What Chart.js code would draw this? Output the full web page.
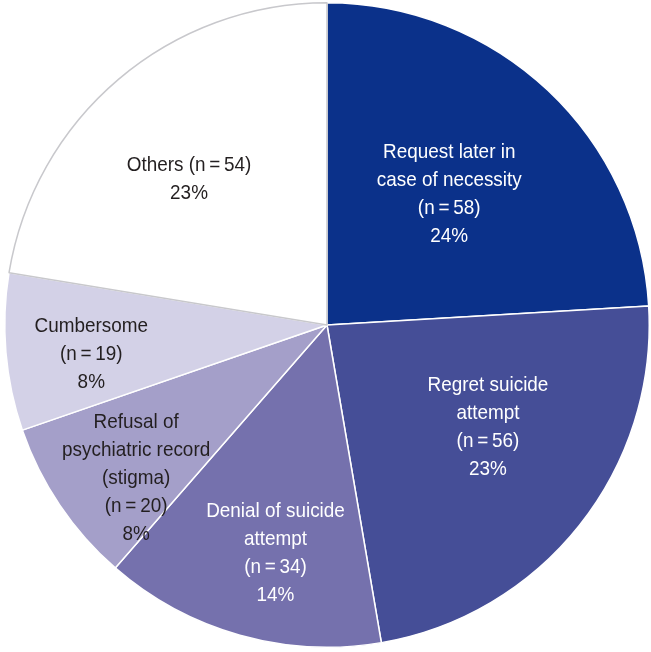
<!DOCTYPE html>
<html>
<head>
<meta charset="utf-8">
<script src="https://cdn.jsdelivr.net/npm/chart.js@4"></script>
<style>
  html, body { margin: 0; padding: 0; background: #fff; }
  #wrap { width: 651px; height: 652px; }
</style>
</head>
<body>
<div id="wrap"><canvas id="pieChart" width="651" height="652"></canvas></div>
<script>
// Data
const reasons = ['Request later in case of necessity', 'Regret suicide attempt', 'Denial of suicide attempt',
    'Refusal of psychiatric record (stigma)', 'Cumbersome', 'Others'];
const counts = [58, 56, 34, 20, 19, 54];
const percents = ['24%', '23%', '14%', '8%', '8%', '23%'];

// label text lines (name part), n and % are appended
const labelLines = [
    ['Request later in', 'case of necessity'],
    ['Regret suicide', 'attempt'],
    ['Denial of suicide', 'attempt'],
    ['Refusal of', 'psychiatric record', '(stigma)'],
    ['Cumbersome'],
    ['Others (n\u2009=\u200954)']
];

const sliceColors = ['#0b318a', '#454e97', '#7571ad', '#a49fc9', '#d3d1e7', '#ffffff'];
const sliceBorders = ['#ffffff', '#ffffff', '#ffffff', '#ffffff', '#ffffff', '#c8c8cc'];
const textColors = ['#ffffff', '#ffffff', '#ffffff', '#231f20', '#231f20', '#231f20'];

// label placement: angle from 12 o'clock (deg, clockwise), fraction of radius
const labelAngle = [43.1, 122.3, 192.7, 231.2, 263, 316.5];
const labelDist = [0.555, 0.591, 0.727, 0.76, 0.737, 0.622];

const FONT = '"Liberation Sans", Arial, sans-serif';
const SQUEEZE = 0.9; // condensed look

function buildLines(i) {
    const lines = labelLines[i].slice();
    if (i !== 5) lines.push('(n\u2009=\u2009' + counts[i] + ')');
    lines.push(percents[i]);
    return lines;
}

// Labels plugin
const sliceLabels = {
    id: 'sliceLabels',
    afterDatasetsDraw(chart) {
        const meta = chart.getDatasetMeta(0);
        const ctx = chart.ctx;
        meta.data.forEach((arc, i) => {
            const a = labelAngle[i] * Math.PI / 180;
            const r = arc.outerRadius * labelDist[i];
            const cx = arc.x + r * Math.sin(a);
            const cy = arc.y - r * Math.cos(a);
            const lines = buildLines(i);
            const lh = 28;
            const top = cy - (lines.length - 1) * lh / 2;
            ctx.save();
            ctx.translate(cx, 0);
            ctx.scale(SQUEEZE, 1);
            ctx.font = '21px ' + FONT;
            ctx.textAlign = 'center';
            ctx.textBaseline = 'middle';
            ctx.fillStyle = textColors[i];
            lines.forEach((t, k) => ctx.fillText(t, 0, top + k * lh));
            ctx.restore();
        });
    }
};

const ctx = document.getElementById('pieChart').getContext('2d');
const pieChart = new Chart(ctx, {
    type: 'pie',
    data: {
        labels: reasons,
        datasets: [{
            data: counts,
            backgroundColor: sliceColors,
            borderColor: sliceBorders,
            borderWidth: 1.5
        }]
    },
    options: {
        responsive: false,
        animation: false,
        layout: { padding: { top: 2, bottom: 4, left: 3, right: 0 } },
        plugins: {
            legend: { display: false },
            tooltip: { enabled: false }
        }
    },
    plugins: [sliceLabels]
});
</script>
</body>
</html>
